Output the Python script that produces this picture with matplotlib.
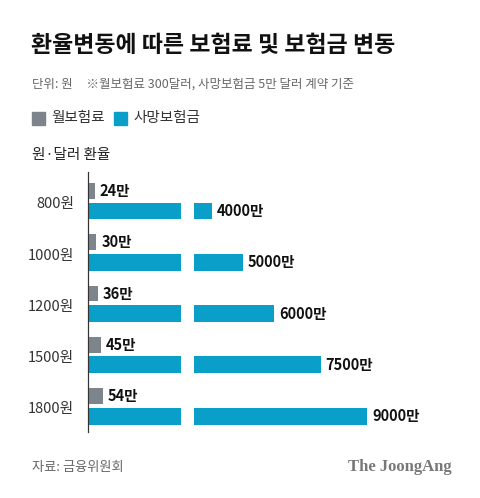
import matplotlib
matplotlib.use("Agg")
import matplotlib.pyplot as plt
from matplotlib.patches import Rectangle

plt.rcParams['font.family'] = ['Noto Sans CJK KR', 'DejaVu Sans']

categories = ["800원", "1000원", "1200원", "1500원", "1800원"]
premium = [24, 30, 36, 45, 54]          # 만원
benefit = [4000, 5000, 6000, 7500, 9000]  # 만원
grey = "#7d848c"
blue = "#0a9fc9"

fig = plt.figure(figsize=(4.8, 4.98), dpi=100)
W, H = 480, 498
def fx(px): return px / W
def fy(py): return 1 - py / H

fig.text(fx(31), fy(45), "환율변동에 따른 보험료 및 보험금 변동", fontsize=16.5, fontweight='bold', va='center', color='#111111')
fig.text(fx(32), fy(84), "단위: 원     ※월보험료 300달러, 사망보험금 5만 달러 계약 기준", fontsize=9, va='center', color='#666666')
fig.patches.append(Rectangle((fx(32), fy(125)), fx(13), 13/H, color=grey, transform=fig.transFigure))
fig.text(fx(51), fy(118), "월보험료", fontsize=10.5, va='center', color='#333333')
fig.patches.append(Rectangle((fx(114), fy(125)), fx(13), 13/H, color=blue, transform=fig.transFigure))
fig.text(fx(133), fy(118), "사망보험금", fontsize=10.5, va='center', color='#333333')
fig.text(fx(32), fy(155), "원·달러 환율", fontsize=10.5, va='center', color='#222222')
fig.text(fx(32), fy(467), "자료: 금융위원회", fontsize=9.5, va='center', color='#666666')
fig.text(fx(452), fy(467), "The JoongAng", fontsize=12, fontweight='bold', family='Liberation Serif',
         va='center', ha='right', color='#777777')

ax = fig.add_axes([fx(88), fy(432), fx(372), (432 - 172) / H])
ax2 = ax.twiny()
ys = list(range(len(categories)))
gy = [y - 0.23 for y in ys]
by = [y + 0.16 for y in ys]

ax.set_xlim(0, 12000)
ax.barh(by, benefit, height=0.33, color=blue)
ax.barh(by, [420] * len(ys), left=3000, height=0.36, color='white')
for y, v in zip(by, benefit):
    ax.text(v + 160, y, f"{v}만", va='center', ha='left', fontsize=10.5, fontweight='bold', color='#111111')

ax2.set_xlim(0, 1339)
ax2.barh(gy, premium, height=0.31, color=grey)
for y, v in zip(gy, premium):
    ax2.text(v + 18, y, f"{v}만", va='center', ha='left', fontsize=10.5, fontweight='bold', color='#111111')

ax.set_ylim(4.47, -0.6)
ax.set_yticks(ys)
ax.set_yticklabels(categories, fontsize=10.5, color='#333333')
ax.tick_params(axis='y', length=0, pad=10)
ax.set_xticks([])
ax2.set_xticks([])
for a in (ax, ax2):
    for s in ['top', 'right', 'bottom']:
        a.spines[s].set_visible(False)
    a.spines['left'].set_color('#333333')
    a.spines['left'].set_linewidth(0.8)
    a.patch.set_alpha(0)

fig.savefig("out.png", dpi=100, facecolor='white')
